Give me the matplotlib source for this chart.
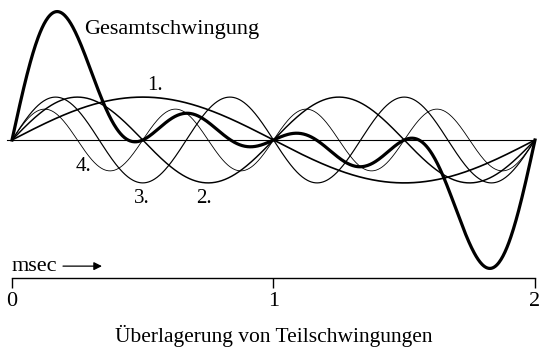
import numpy as np
from matplotlib import pyplot as plt

# Teilschwingungen: Ordnung und Amplitude
harmonics = [1, 2, 3, 4]
amplitudes = [1.0, 1.0, 1.0, 0.72]
linewidths = [1.2, 1.05, 0.85, 0.6]
labels = ['1.', '2.', '3.', '4.']
ticks = [0, 1, 2]
tick_labels = ['0', '1', '2']

plt.rcParams['font.family'] = ['Liberation Serif', 'DejaVu Serif']

fig = plt.figure(figsize=(5.43, 3.48), dpi=100)
ax = fig.add_axes([0, 70 / 348, 1, 278 / 348])

t = np.linspace(0, 2, 801)
total = np.zeros(len(t))
for k, a, lw in zip(harmonics, amplitudes, linewidths):
    y = a * np.sin(k * np.pi * t)
    total += y
    ax.plot(t, y, color='k', lw=lw, solid_capstyle='round')

ax.plot(t, total, color='k', lw=2.3, solid_joinstyle='round')
ax.axhline(0, xmin=0.013, xmax=0.985, color='k', lw=0.8)

ax.set_xlim(-12 / 261.5, 531 / 261.5)
ax.set_ylim(-138 / 42.9, 140 / 42.9)

for s in ['top', 'right', 'left']:
    ax.spines[s].set_visible(False)
ax.spines['bottom'].set_bounds(0, 2)
ax.spines['bottom'].set_linewidth(1.0)
ax.set_yticks([])
ax.set_xticks(ticks)
ax.set_xticklabels(tick_labels, fontsize=16)
ax.tick_params(axis='x', direction='out', length=7, width=1.0, pad=3)

# Beschriftungen
ax.text(0.275, 2.47, 'Gesamtschwingung', fontsize=16, va='baseline', ha='left')
ax.text(0.547, 1.26, labels[0], fontsize=15, ha='center', va='center')
ax.text(0.734, -1.36, labels[1], fontsize=15, ha='center', va='center')
ax.text(0.497, -1.36, labels[2], fontsize=15, ha='center', va='center')
ax.text(0.275, -0.61, labels[3], fontsize=15, ha='center', va='center')

ax.text(0.0, -3.05, 'msec', fontsize=16, va='baseline', ha='left')
ax.annotate('', xy=(0.344, -2.94), xytext=(0.195, -2.94),
            arrowprops=dict(arrowstyle='-|>', color='k', lw=0.9,
                            mutation_scale=12, shrinkA=0, shrinkB=0))

fig.text(0.5046, 0.016, 'Überlagerung von Teilschwingungen', fontsize=15.5,
         ha='center', va='baseline')

plt.savefig('out.png', dpi=100)
